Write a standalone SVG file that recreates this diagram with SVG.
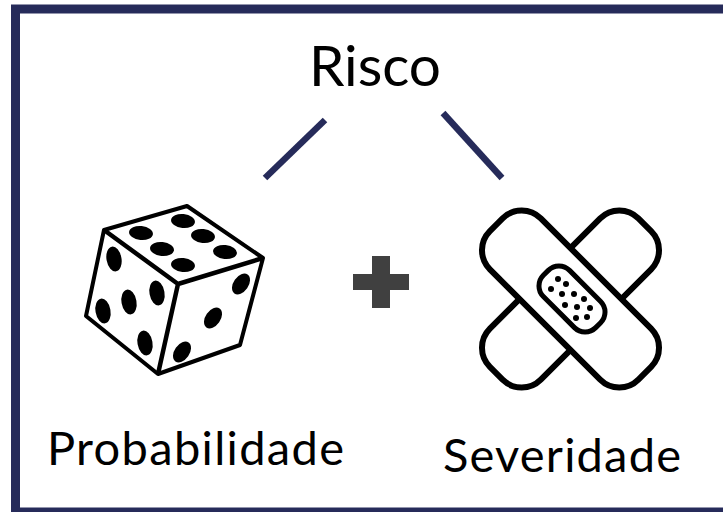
<svg xmlns="http://www.w3.org/2000/svg" width="723" height="512" viewBox="0 0 723 512">
<style>
.t{font-family:"Lato","Liberation Sans",sans-serif;fill:#000}
.c{stroke:#262b5a;stroke-width:6.5;fill:none}
.k{fill:none;stroke:#000;stroke-linejoin:round}
.p{fill:#000}
</style>
<defs><filter id="soft" x="-5%" y="-5%" width="110%" height="110%"><feGaussianBlur stdDeviation="0.6"/></filter></defs>
<rect width="723" height="512" fill="#fff"/>
<rect id="frame" x="15.5" y="9" width="800" height="503" fill="none" stroke="#262b5a" stroke-width="9"/>
<g id="risco"><text class="t" x="309" y="86" font-size="57" textLength="132" lengthAdjust="spacingAndGlyphs">Risco</text></g>
<g id="connectors">
<line class="c" x1="325" y1="120" x2="265" y2="178"/>
<line class="c" x1="443" y1="113" x2="502" y2="178"/>
</g>
<g id="dado" filter="url(#soft)">
<path class="k" stroke-width="4" d="M104 230L187 206L263 258L240 345L158 374L86 316Z"/>
<path class="k" stroke-width="4.5" d="M104 230L178 284L263 258M178 284L158 374"/>
<g class="p">
<ellipse cx="183" cy="221" rx="12" ry="7" transform="rotate(6 183 221)"/>
<ellipse cx="141" cy="233" rx="12" ry="7" transform="rotate(6 141 233)"/>
<ellipse cx="203" cy="236" rx="12" ry="7" transform="rotate(6 203 236)"/>
<ellipse cx="162" cy="249" rx="12" ry="7" transform="rotate(6 162 249)"/>
<ellipse cx="225" cy="252" rx="12" ry="7" transform="rotate(6 225 252)"/>
<ellipse cx="183" cy="265" rx="12" ry="7" transform="rotate(6 183 265)"/>
<ellipse cx="114" cy="259" rx="7.5" ry="12.5" transform="rotate(-10 114 259)"/>
<ellipse cx="157" cy="293" rx="7.5" ry="12.5" transform="rotate(-10 157 293)"/>
<ellipse cx="129" cy="302" rx="7.5" ry="12.5" transform="rotate(-10 129 302)"/>
<ellipse cx="103" cy="311" rx="7.5" ry="12.5" transform="rotate(-10 103 311)"/>
<ellipse cx="145" cy="343" rx="7.5" ry="12.5" transform="rotate(-10 145 343)"/>
<ellipse cx="241" cy="284" rx="7.5" ry="11.5" transform="rotate(35 241 284)"/>
<ellipse cx="213" cy="318" rx="7.5" ry="11.5" transform="rotate(35 213 318)"/>
<ellipse cx="182" cy="352" rx="7.5" ry="11.5" transform="rotate(35 182 352)"/>
</g>
</g>
<g id="mais" filter="url(#soft)"><path fill="#404040" d="M372 256H390V274H409V290H390V308H372V290H353V274H372Z"/></g>
<g id="curativo" filter="url(#soft)">
<rect class="k" style="fill:#fff" stroke-width="6" x="-105" y="-36" width="210" height="72" rx="27" transform="translate(570.5 299) rotate(-45)"/>
<rect class="k" style="fill:#fff" stroke-width="6" x="-105" y="-36" width="210" height="72" rx="27" transform="translate(570.5 299) rotate(45)"/>
<rect class="k" stroke-width="5" x="-37" y="-18.5" width="74" height="37" rx="15" transform="translate(572 299) rotate(45)"/>
<g class="p">
<circle cx="558" cy="279" r="3"/><circle cx="566" cy="284" r="3"/><circle cx="551" cy="289" r="3"/><circle cx="562" cy="294" r="3"/><circle cx="574" cy="294" r="3"/><circle cx="584" cy="299" r="3"/><circle cx="565" cy="305" r="3"/><circle cx="577" cy="307" r="3"/><circle cx="590" cy="308" r="3"/><circle cx="576" cy="318" r="3"/><circle cx="587" cy="317" r="3"/>
</g>
</g>
<g id="probabilidade"><text class="t" x="47" y="465" font-size="47" textLength="297" lengthAdjust="spacing">Probabilidade</text></g>
<g id="severidade"><text class="t" x="443" y="472" font-size="47" textLength="238" lengthAdjust="spacing">Severidade</text></g>
</svg>
